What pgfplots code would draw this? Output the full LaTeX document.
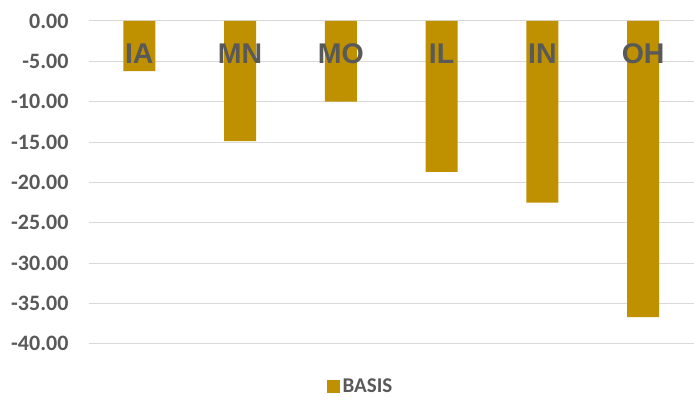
\documentclass[border=0pt]{standalone}
\usepackage{fontspec}
\setmainfont{Carlito}[BoldFont={Carlito Bold}]
\newfontfamily\carlitobold{Carlito Bold}
\newfontfamily\arialbold{Liberation Sans Bold}
\usepackage{pgfplots}
\pgfplotsset{compat=1.18}
\definecolor{barcol}{HTML}{BF9000}
\definecolor{txtgray}{HTML}{595959}
\definecolor{gridgray}{HTML}{D9D9D9}
\begin{document}
\begin{tikzpicture}
\path (-89pt,-56pt) rectangle (605pt,344pt);
\begin{axis}[
  at={(0pt,0pt)}, anchor=south west,
  scale only axis, width=605pt, height=323pt,
  xmin=-0.5, xmax=5.5, ymin=-40, ymax=0,
  xtick=\empty,
  ytick={-40,-35,...,0},
  ymajorgrids, grid style={gridgray, line width=1pt},
  axis line style={draw=none},
  major tick length=0pt,
  /pgf/number format/assume math mode=true,
  yticklabel style={/pgf/number format/.cd, fixed, fixed zerofill, precision=2, /tikz/.cd,
    font=\carlitobold\fontsize{22}{22}\selectfont, text=txtgray, xshift=-17pt},
  ybar, bar width=32pt,
  legend style={at={(axis description cs:0.45,-0.133)}, anchor=center, draw=none,
    font=\carlitobold\fontsize{21}{21}\selectfont, text=txtgray, inner sep=1pt,
    nodes={inner xsep=3pt, inner ysep=1pt}},
  legend image code/.code={\fill[#1] (0pt,-6pt) rectangle (13pt,7pt);},
  clip=false,
]
\addplot[fill=barcol, draw=none] coordinates {(0,-6.2) (1,-14.9) (2,-10.0) (3,-18.7) (4,-22.5) (5,-36.7)};
\addlegendentry{BASIS}
\foreach \i/\n in {0/IA,1/MN,2/MO,3/IL,4/IN,5/OH}{
  \edef\tmp{\noexpand\node[text=txtgray, font=\noexpand\arialbold\noexpand\fontsize{28.5}{28.5}\noexpand\selectfont, inner sep=0pt] at (axis cs:\i,-4.1) {\n};}
  \tmp
}
\end{axis}
\end{tikzpicture}
\end{document}
